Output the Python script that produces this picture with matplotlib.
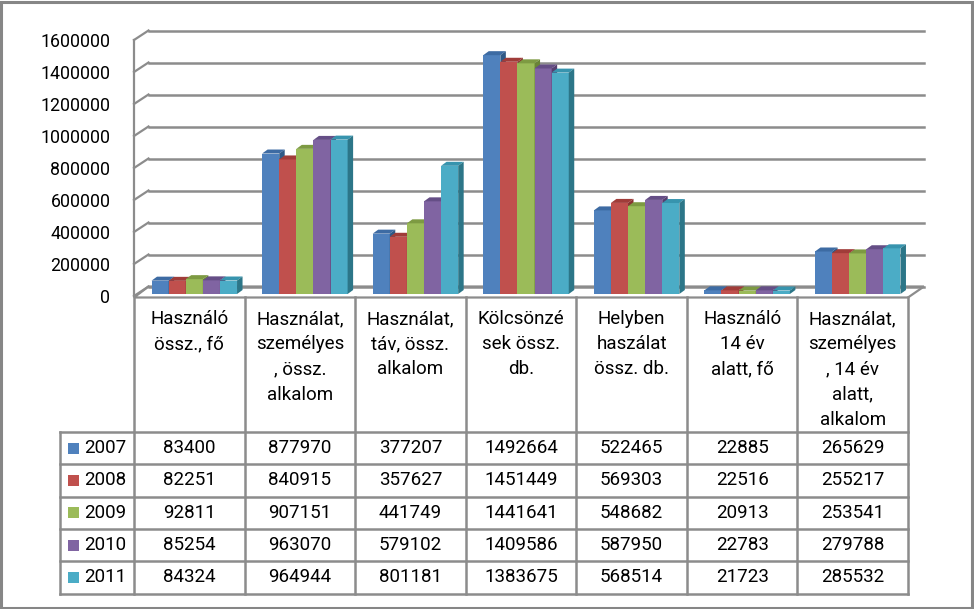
import matplotlib
matplotlib.use("Agg")
import matplotlib.pyplot as plt
from matplotlib.patches import Polygon, Rectangle

plt.rcParams['font.family'] = ['Roboto', 'DejaVu Sans']

# --- data ---
categories = [
    "Használó\nössz., fő",
    "Használat,\nszemélyes\n, össz.\nalkalom",
    "Használat,\ntáv, össz.\nalkalom",
    "Kölcsönzé\nsek össz.\ndb.",
    "Helyben\nhaszálat\nössz. db.",
    "Használó\n14 év\nalatt, fő",
    "Használat,\nszemélyes\n, 14 év\nalatt,\nalkalom",
]
years = ["2007", "2008", "2009", "2010", "2011"]
v2007 = [83400, 877970, 377207, 1492664, 522465, 22885, 265629]
v2008 = [82251, 840915, 357627, 1451449, 569303, 22516, 255217]
v2009 = [92811, 907151, 441749, 1441641, 548682, 20913, 253541]
v2010 = [85254, 963070, 579102, 1409586, 587950, 22783, 279788]
v2011 = [84324, 964944, 801181, 1383675, 568514, 21723, 285532]
series = [v2007, v2008, v2009, v2010, v2011]
y_ticks = [0, 200000, 400000, 600000, 800000, 1000000, 1200000, 1400000, 1600000]

face = ['#4F81BD', '#C0504D', '#9BBB59', '#8064A2', '#4BACC6']
top_c = ['#3D6BA3', '#A03C39', '#7D9A42', '#654E86', '#3794AE']
side_c = ['#2F5986', '#8A3331', '#6A8436', '#563F70', '#2C7688']
grid_c = '#8C8C8C'

W, H = 974, 609
fig = plt.figure(figsize=(W / 100, H / 100), dpi=100)

# chart axes: front plane, x in category units, y in values
PX = 110.57            # pixels per category
PY = 1600000 / 256     # value per pixel
ax = fig.add_axes([134 / W, 1 - 296 / H, 774 / W, 256 / H])
ax.set_xlim(-0.5, 6.5)
ax.set_ylim(0, 1600000)
for s in ax.spines.values():
    s.set_visible(False)
ax.set_xticks([])
ax.set_yticks(y_ticks)
ax.set_yticklabels([str(t) for t in y_ticks], fontsize=12.8)
ax.tick_params(axis='y', length=0, pad=17)
ax.patch.set_alpha(0)

DX, DY = 14.5 / PX, 9.5 * PY     # wall depth
BDX, BDY = 5.5 / PX, 4 * PY      # bar depth
BASE = 2 * PY
bw = 17.1 / PX
shift = 5 / PX

# floor
ax.add_patch(Polygon([(-0.5, -1.5 * PY), (6.5, -1.5 * PY), (6.5 + DX * 1.1, DY),
                      (-0.5 + DX, DY)], closed=True, fc='white', ec=grid_c,
                     lw=1.6, zorder=1, clip_on=False))
# wall + gridlines
ax.plot([-0.5, -0.5], [0, 1600000], color=grid_c, lw=1.6, zorder=1, clip_on=False)
for t in y_ticks:
    ax.plot([-0.5 + DX, 6.5 + DX * 1.1], [t + DY, t + DY], color=grid_c, lw=1.8,
            zorder=1, clip_on=False)
    ax.plot([-0.5, -0.5 + DX], [t, t + DY], color=grid_c, lw=1.6, zorder=1, clip_on=False)

# bars
for j, vals in enumerate(series):
    xs = [i + shift + (j - 2) * bw for i in range(len(vals))]
    z = 3 + j
    ax.bar(xs, vals, width=bw, bottom=BASE, color=face[j], lw=0, zorder=z)
    for x, v in zip(xs, vals):
        top = BASE + v
        l, r = x - bw / 2, x + bw / 2
        ax.add_patch(Polygon([(l, top), (r, top), (r + BDX, top + BDY), (l + BDX, top + BDY)],
                             closed=True, fc=top_c[j], lw=0, zorder=z, clip_on=False))
        ax.add_patch(Polygon([(r, BASE), (r, top), (r + BDX, top + BDY), (r + BDX, BASE + BDY)],
                             closed=True, fc=side_c[j], lw=0, zorder=z, clip_on=False))

# data table
LEG_X = -0.5 - 74 / PX
tab = fig.add_axes([60 / W, 1 - 594 / H, 848 / W, 297 / H])
tab.set_xlim(LEG_X, 6.5)
tab.set_ylim(594, 297)
tab.axis('off')

row_top = 432
row_h = 32.3
n_rows = len(years)
bottom = row_top + row_h * n_rows
lkw = dict(color=grid_c, lw=1.8, clip_on=False, solid_capstyle='projecting')
for k in range(len(categories) + 1):
    tab.plot([k - 0.5, k - 0.5], [297, bottom], **lkw)
tab.plot([LEG_X, LEG_X], [row_top, bottom], **lkw)
for r in range(n_rows + 1):
    tab.plot([LEG_X, 6.5], [row_top + r * row_h] * 2, **lkw)

for i, cat in enumerate(categories):
    for k, line in enumerate(cat.split("\n")):
        tab.text(i, 319 + k * 25.2, line, ha='center', va='center', fontsize=13.5)

for r, (yr, vals) in enumerate(zip(years, series)):
    yc = row_top + row_h * (r + 0.5)
    tab.add_patch(Rectangle((LEG_X + 8 / PX, yc - 5.5), 11 / PX, 11, fc=face[r], lw=0))
    tab.text(LEG_X + 24 / PX, yc, yr, ha='left', va='center', fontsize=13.5)
    for i, v in enumerate(vals):
        tab.text(i, yc, str(v), ha='center', va='center', fontsize=13.5)

# outer border
fig.patches.append(Rectangle((1 / W, 1 / H), 971 / W, 606 / H, transform=fig.transFigure,
                             fill=False, ec='#868686', lw=2.2))

fig.savefig('out.png', dpi=100)
